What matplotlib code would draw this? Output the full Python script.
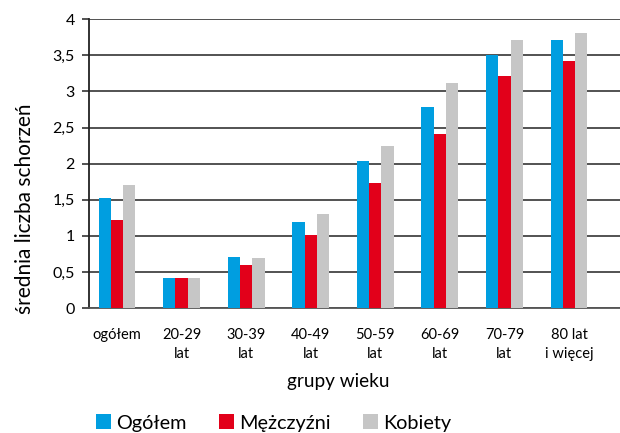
import numpy as np
import matplotlib.pyplot as plt

grupy = ['ogółem', '20-29\nlat', '30-39\nlat', '40-49\nlat', '50-59\nlat',
         '60-69\nlat', '70-79\nlat', '80 lat\ni więcej']
ogolem = [1.52, 0.42, 0.71, 1.19, 2.04, 2.78, 3.50, 3.71]
mezczyzni = [1.22, 0.42, 0.60, 1.01, 1.73, 2.41, 3.21, 3.42]
kobiety = [1.70, 0.42, 0.70, 1.30, 2.24, 3.12, 3.71, 3.81]

serie = ['Ogółem', 'Mężczyźni', 'Kobiety']
kolory = ['#009ee0', '#e2001a', '#c6c6c6']

plt.rcParams['font.family'] = ['Lato', 'DejaVu Sans']

fig = plt.figure(figsize=(6.2, 4.33), dpi=100)
ax = fig.add_axes([0.143, 0.288, 0.857, 0.668])

x = np.arange(len(grupy))
w = 0.19
for i, (vals, lab, c) in enumerate(zip([ogolem, mezczyzni, kobiety], serie, kolory)):
    ax.bar(x + (i - 1) * w, vals, w, color=c, label=lab, zorder=3)

ax.set_ylim(0, 4)
ax.set_xlim(-0.44, 7.79)
ax.set_yticks(np.arange(0, 4.01, 0.5))
ax.set_yticklabels(['0', '0,5', '1', '1,5', '2', '2,5', '3', '3,5', '4'], fontsize=11.5)
ax.set_xticks(x)
ax.set_xticklabels(grupy, fontsize=10.5, linespacing=1.45)
ax.tick_params(axis='x', length=0, pad=14)
ax.tick_params(axis='y', length=5, width=1.2, color='#333333', pad=5)
ax.yaxis.grid(True, color='#444444', linewidth=1.3, zorder=0)

for s in ['top', 'right']:
    ax.spines[s].set_visible(False)
ax.spines['left'].set_color('#222222')
ax.spines['left'].set_linewidth(1.3)
ax.spines['bottom'].set_color('#555555')
ax.spines['bottom'].set_linewidth(1.3)

# opisy osi ustawione recznie
fig.text(25 / 620, 1 - 209 / 433, 'średnia liczba schorzeń', rotation=90,
         fontsize=15, ha='center', va='center')
fig.text(338 / 620, 1 - 381 / 433, 'grupy wieku', fontsize=13.7,
         ha='center', va='center')

fig.legend(loc='center left', bbox_to_anchor=(96 / 620, 1 - 423 / 433), ncol=3,
           frameon=False, borderpad=0, borderaxespad=0,
           fontsize=14.3, handlelength=0.78, handleheight=0.78, handletextpad=0.25,
           columnspacing=1.6)

fig.savefig('out.png', dpi=100)
